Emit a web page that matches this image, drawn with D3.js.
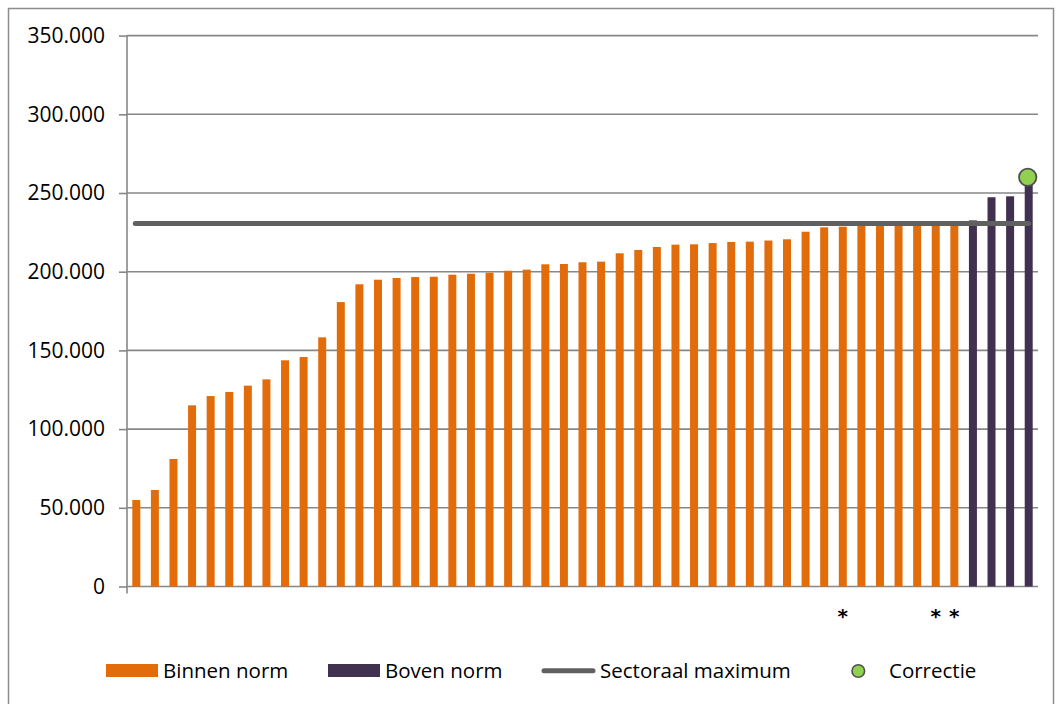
<!DOCTYPE html>
<html>
<head>
<meta charset="utf-8">
<script src="https://cdn.jsdelivr.net/npm/d3@7"></script>
<style>
  html, body { margin: 0; padding: 0; background: #fff; }
  svg { display: block; font-family: "Open Sans", "Liberation Sans", sans-serif; }
</style>
</head>
<body>
<svg id="chart" width="1061" height="704"></svg>
<script>
// ---- data ----
const categories = ["1","2","3","4","5","6","7","8","9","10","11","12","13","14","15","16","17","18","19","20",
  "21","22","23","24","25","26","27","28","29","30","31","32","33","34","35","36","37","38","39","40",
  "41","42","43","44","45","46","47","48","49"];
const xTickLabels = ["","","","","","","","","","","","","","","","","","","","",
  "","","","","","","","","","","","","","","","","","","*","",
  "","","","*","*","","","",""];
const binnenNorm = [55000, 61300, 81000, 115100, 121000, 123600, 127600, 131600, 143700, 145800,
  158300, 180700, 192000, 194900, 196000, 196600, 196800, 198100, 198700, 199400,
  200600, 201300, 204700, 204900, 206000, 206400, 211700, 213800, 215700, 217200,
  217400, 218200, 218900, 219100, 219800, 220600, 225400, 228200, 228600, 229200,
  229400, 229600, 229800, 230000, 230200];
const bovenNorm = [232600, 247300, 247900, 258000];
const sectoraalMaximum = 230700;
const correctie = 260000;
const yTicks = [0, 50000, 100000, 150000, 200000, 250000, 300000, 350000];
const legendLabels = ["Binnen norm", "Boven norm", "Sectoraal maximum", "Correctie"];

// ---- build ----
const svg = d3.select("#chart");
const colors = { binnen: "#E36C0A", boven: "#403151", line: "#606060", dot: "#92D050", grid: "#878787" };

const plot = { left: 127, right: 1038, top: 35.6, bottom: 586.5 };

const x = d3.scaleBand().domain(categories).range([plot.left, plot.right]).paddingInner(0.57).paddingOuter(0.285);
const y = d3.scaleLinear().domain([0, 350000]).range([plot.bottom, plot.top]);

// outer frame
svg.append("rect").attr("x", 8.5).attr("y", 8.5).attr("width", 1045).attr("height", 720)
  .attr("fill", "none").attr("stroke", "#8c8c8c").attr("stroke-width", 1.5);

// gridlines
svg.append("g").selectAll("line").data(yTicks).join("line")
  .attr("x1", plot.left).attr("x2", plot.right)
  .attr("y1", d => y(d)).attr("y2", d => y(d))
  .attr("stroke", colors.grid).attr("stroke-width", 1.6);

// y axis
const fmt = v => d3.format(",")(v).replace(/,/g, ".");
const yAxis = d3.axisLeft(y).tickValues(yTicks).tickFormat(fmt).tickSize(8).tickPadding(14);
const gy = svg.append("g").attr("transform", `translate(${plot.left},0)`).call(yAxis);
gy.select(".domain").remove();
gy.selectAll(".tick line").attr("stroke", colors.grid).attr("stroke-width", 1.6);
gy.selectAll(".tick text").attr("fill", "#000").style("font-size", "21px")
  .style("font-family", "'Open Sans', sans-serif");
svg.append("line").attr("x1", plot.left).attr("x2", plot.left)
  .attr("y1", plot.top).attr("y2", plot.bottom + 7)
  .attr("stroke", colors.grid).attr("stroke-width", 1.6);

// bars
const allValues = binnenNorm.map((v, i) => ({ cat: categories[i], v, type: "binnen" }))
  .concat(bovenNorm.map((v, i) => ({ cat: categories[binnenNorm.length + i], v, type: "boven" })));
svg.append("g").selectAll("rect").data(allValues).join("rect")
  .attr("x", d => x(d.cat)).attr("width", x.bandwidth())
  .attr("y", d => y(d.v)).attr("height", d => y(0) - y(d.v))
  .attr("fill", d => d.type === "binnen" ? colors.binnen : colors.boven);

// x axis labels (asterisks)
const xAxis = d3.axisBottom(x).tickFormat((d, i) => xTickLabels[i]).tickSize(0).tickPadding(0);
const gx = svg.append("g").attr("transform", `translate(0,${plot.bottom})`).call(xAxis);
gx.select(".domain").remove();
gx.selectAll(".tick text").attr("fill", "#000").attr("dy", null).attr("y", 36)
  .style("font-size", "20px").style("font-weight", "bold")
  .style("font-family", "'DejaVu Sans', sans-serif");

// sector maximum line
const firstC = categories[0], lastC = categories[categories.length - 1];
svg.append("line")
  .attr("x1", x(firstC) + x.bandwidth() / 2 - 1).attr("x2", x(lastC) + x.bandwidth() / 2)
  .attr("y1", y(sectoraalMaximum)).attr("y2", y(sectoraalMaximum))
  .attr("stroke", colors.line).attr("stroke-width", 5).attr("stroke-linecap", "round");

// correctie point
svg.append("circle")
  .attr("cx", x(lastC) + x.bandwidth() / 2 - 1).attr("cy", y(correctie)).attr("r", 8.7)
  .attr("fill", colors.dot).attr("stroke", "#505050").attr("stroke-width", 1.8);

// legend
const lg = svg.append("g").style("font-size", "20.5px").attr("fill", "#000");
lg.append("rect").attr("x", 106).attr("y", 664).attr("width", 52).attr("height", 13).attr("fill", colors.binnen);
lg.append("text").attr("x", 163).attr("y", 678).text(legendLabels[0]);
lg.append("rect").attr("x", 328).attr("y", 664).attr("width", 52).attr("height", 13).attr("fill", colors.boven);
lg.append("text").attr("x", 385).attr("y", 678).text(legendLabels[1]);
lg.append("line").attr("x1", 544).attr("x2", 593).attr("y1", 670.7).attr("y2", 670.7)
  .attr("stroke", colors.line).attr("stroke-width", 5).attr("stroke-linecap", "round");
lg.append("text").attr("x", 600).attr("y", 678).text(legendLabels[2]);
lg.append("circle").attr("cx", 858.3).attr("cy", 671).attr("r", 6.3)
  .attr("fill", colors.dot).attr("stroke", "#505050").attr("stroke-width", 1.6);
lg.append("text").attr("x", 889).attr("y", 678).text(legendLabels[3]);
</script>
</body>
</html>
